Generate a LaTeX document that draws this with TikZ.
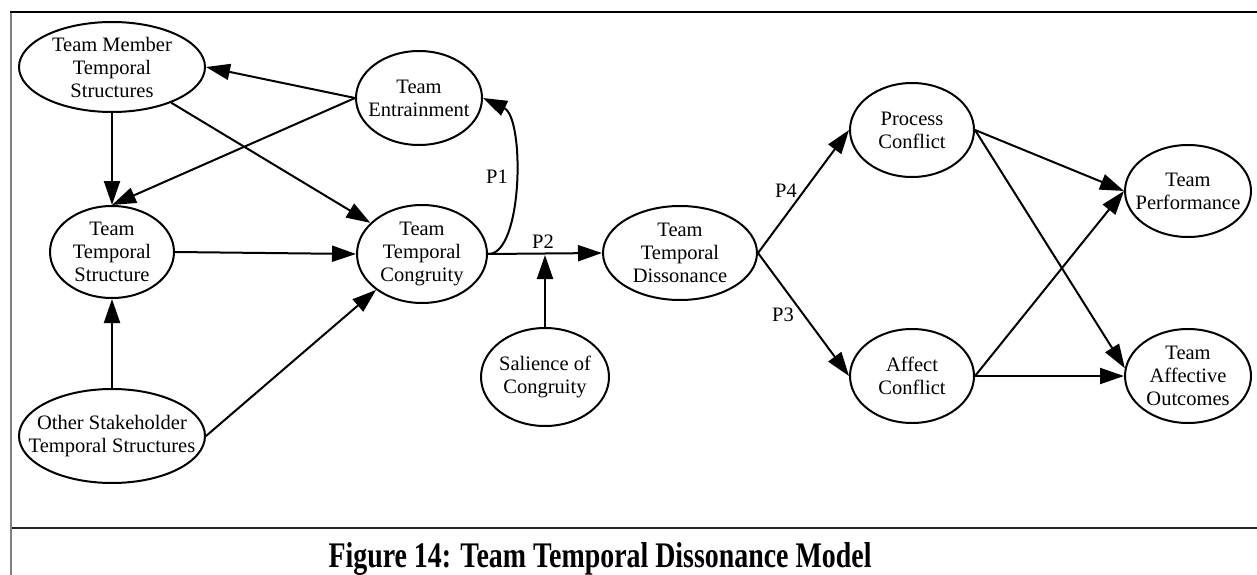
\documentclass[tikz,border=0pt]{standalone}
\usepackage{graphicx}
\usepackage{fontspec}
\setmainfont{Liberation Serif}
\usetikzlibrary{shapes.geometric,arrows.meta}

% an oval concept: empty ellipse of fixed size with its text set on top
\newcommand\ovalnode[5]{%
  \node[oval, minimum width=#3, minimum height=#4] (#1) at #2 {};
  \node[ovaltext] (#1-text) at (#1) {#5};}

\begin{document}
\begin{tikzpicture}[x=1pt,y=-1pt,
  oval/.style={ellipse, draw, line width=2pt, inner sep=0pt, fill=white},
  ovaltext/.style={align=center, inner sep=0pt, font=\fontsize{20.5}{23}\selectfont},
  link/.style={line width=2pt, -{Triangle[length=24pt,width=16pt]}},
  tag/.style={inner sep=0pt, font=\fontsize{20.5}{23}\selectfont}]
\useasboundingbox (0,0) rectangle (1257,575);
\fill[white] (0,0) rectangle (1257,575);

% frame of the figure
\draw[line width=2pt, black!50] (11,11) -- (11,575);
\draw[line width=1.8pt] (10,12) -- (1257,12);
\draw[line width=1.8pt, black!85] (12,528) -- (1257,528);

% concepts
\ovalnode{tmts}{(112,67)}{186pt}{90pt}{Team Member\\Temporal\\Structures}
\ovalnode{te}{(419,98)}{126pt}{94pt}{Team\\Entrainment}
\ovalnode{tts}{(112,252)}{124pt}{92pt}{Team\\Temporal\\Structure}
\ovalnode{ttc}{(422,254)}{130pt}{98pt}{Team\\Temporal\\Congruity}
\ovalnode{osts}{(112,436)}{186pt}{94pt}{Other Stakeholder\\Temporal Structures}
\ovalnode{sc}{(545,377)}{128pt}{98pt}{Salience of\\Congruity}
\ovalnode{ttd}{(680,253)}{154pt}{94pt}{Team\\Temporal\\Dissonance}
\ovalnode{pc}{(912,130)}{124pt}{94pt}{Process\\Conflict}
\ovalnode{ac}{(912,376)}{124pt}{94pt}{Affect\\Conflict}
\ovalnode{tp}{(1188,191)}{126pt}{92pt}{Team\\Performance}
\ovalnode{tao}{(1188,376)}{126pt}{94pt}{Team\\Affective\\Outcomes}

% temporal structures feeding congruity
\draw[link] (te.west) -- (tmts.east);
\draw[link] (te.west) -- (tts.north);
\draw[link] (tmts) -- (tts);
\draw[link] (tmts) -- (ttc);
\draw[link] (tts.east) -- (ttc.west);
\draw[link] (osts.north) -- (tts.south);
\draw[link] (osts.east) -- (ttc.218);

% propositions
\draw[link] (ttc.east) .. controls (523,255) and (525,118) .. (te.east);
\draw[link] (ttc.east) -- (ttd.west);
\coordinate (gate) at (545,255);
\draw[link] (sc.north) -- (gate);
\draw[link] (ttd.east) -- (pc.west);
\draw[link] (ttd.east) -- (ac.west);

% outcomes
\draw[link] (pc.east) -- (tp.west);
\draw[link] (pc.east) -- (tao.173);
\draw[link] (ac.east) -- (tp.west);
\draw[link] (ac.east) -- (tao.west);

\node[tag] (p1) at (497,177) {P1};
\node[tag] (p2) at (543,242) {P2};
\node[tag] (p4) at (786,191) {P4};
\node[tag] (p3) at (783,315) {P3};

% caption
\node[anchor=base, inner sep=0pt] (caption) at (600,567)
  {\scalebox{0.775}[1]{\fontsize{36}{40}\selectfont\bfseries Figure 14: Team Temporal Dissonance Model}};
\end{tikzpicture}
\end{document}
